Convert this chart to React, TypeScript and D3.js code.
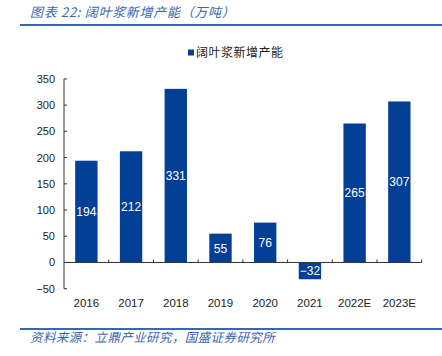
import React from "react";
import * as d3 from "d3";

const categories = ["2016", "2017", "2018", "2019", "2020", "2021", "2022E", "2023E"];
const values = [194, 212, 331, 55, 76, -32, 265, 307];
const yTicks = [-50, 0, 50, 100, 150, 200, 250, 300, 350];
const seriesName = "阔叶浆新增产能";
const titleText = "图表 22:  阔叶浆新增产能（万吨）";
const sourceText = "资料来源：立鼎产业研究，国盛证券研究所";

const W = 442, H = 356;
const left = 64, right = 421.7, top = 78.9, bottom = 288.7;
const barColor = "#023f95";
const blue = "#3a66b0";
const font = "'Liberation Sans', Arial, sans-serif";
const cjk = "'Noto Sans CJK SC', sans-serif";

export default function App() {
  const x = d3.scaleBand<string>().domain(categories).range([left, right]).paddingInner(0.5).paddingOuter(0.25);
  const xb = d3.scaleBand<string>().domain(categories).range([left, right]);
  const y = d3.scaleLinear().domain([-50, 350]).range([bottom, top]);
  const y0 = y(0);
  return (
    <svg width={W} height={H} style={{ position: "absolute", left: 0, top: 0, background: "#fff" }}>
      <text x={30} y={16.5} fill={blue} fontFamily={cjk} fontSize={13} fontStyle="italic" letterSpacing={0.7}>{titleText}</text>
      <line x1={20} x2={442} y1={25} y2={25} stroke={blue} strokeWidth={2} />
      <rect x={188} y={49.5} width={6} height={6} fill={barColor} />
      <text x={196} y={57} fill="#222" fontFamily={cjk} fontSize={12} letterSpacing={0.5}>{seriesName}</text>
      {values.map((v, i) => {
        const c = categories[i];
        const yt = y(Math.max(0, v));
        const yb = y(Math.min(0, v));
        return (
          <g key={c}>
            <rect x={x(c)} y={yt} width={x.bandwidth()} height={yb - yt} fill={barColor} />
            <text x={x(c)! + x.bandwidth() / 2} y={(yt + yb) / 2 + 4.5} textAnchor="middle" fill="#fff" fontFamily={font} fontSize={12}>
              {v < 0 ? "\u2212" + Math.abs(v) : v}
            </text>
          </g>
        );
      })}
      <line x1={left} x2={left} y1={top} y2={bottom} stroke="#333" strokeWidth={1} />
      {yTicks.map(t => (
        <g key={t}>
          <line x1={left} x2={left + 3} y1={y(t)} y2={y(t)} stroke="#333" />
          <text x={55} y={y(t) + 4} textAnchor="end" fill="#222" fontFamily={font} fontSize={11}>
            {t < 0 ? "\u2212" + Math.abs(t) : t}
          </text>
        </g>
      ))}
      <line x1={left} x2={right} y1={y0} y2={y0} stroke="#333" strokeWidth={1} />
      {categories.map(c => (
        <g key={c}>
          <line x1={xb(c)! + xb.bandwidth()} x2={xb(c)! + xb.bandwidth()} y1={y0} y2={y0 - 3} stroke="#333" />
          <text x={xb(c)! + xb.bandwidth() / 2} y={306.5} textAnchor="middle" fill="#222" fontFamily={font} fontSize={11.5}>{c}</text>
        </g>
      ))}
      <line x1={20} x2={442} y1={329} y2={329} stroke={blue} strokeWidth={2} />
      <text x={30} y={342} fill={blue} fontFamily={cjk} fontSize={12.5} fontStyle="italic" letterSpacing={0.4}>{sourceText}</text>
    </svg>
  );
}
